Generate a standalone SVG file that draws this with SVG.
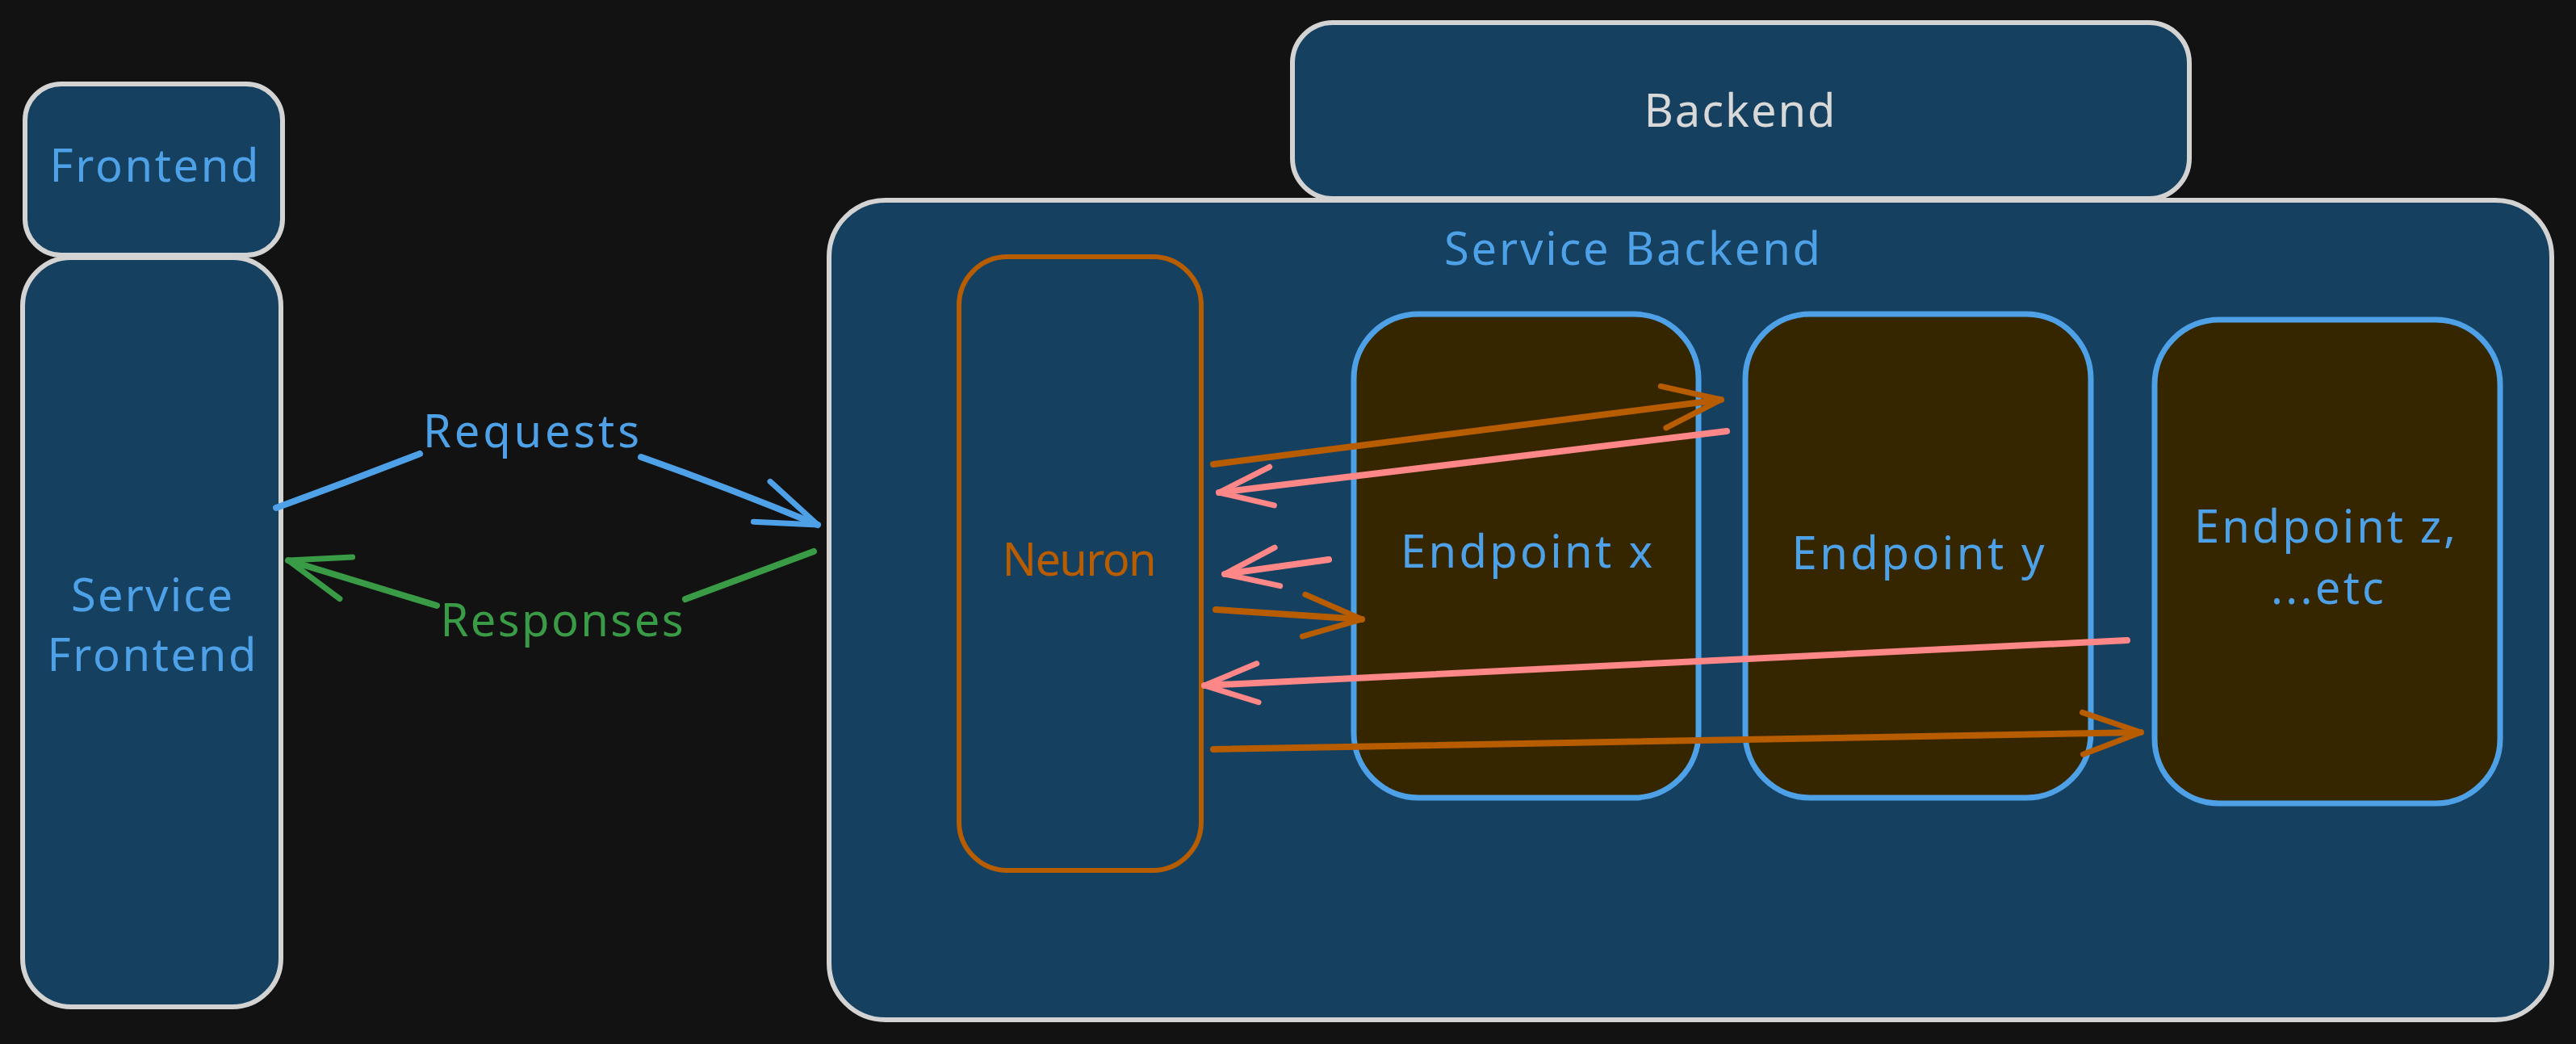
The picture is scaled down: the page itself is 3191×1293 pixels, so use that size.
<svg xmlns="http://www.w3.org/2000/svg" width="3191" height="1293" viewBox="0 0 3191 1293">
<style>
.bg{fill:#121212}
.box{fill:#154060;stroke:#d3d3d3;stroke-width:6}
.ep{fill:#352600;stroke:#4ea1e6;stroke-width:7}
.neu{fill:none;stroke:#b85c00;stroke-width:6}
text{font-family:"Noto Sans","Liberation Sans",sans-serif;font-size:56px;text-anchor:middle}
.tb{fill:#4ea1e6}
.tw{fill:#d8d8d8}
.to{fill:#b85c00}
.tg{fill:#3a9b46}
.ln{fill:none;stroke-width:8;stroke-linecap:round;stroke-linejoin:round}
.blue{stroke:#4ea1e6}
.green{stroke:#3a9b46}
.orange{stroke:#b85c00}
.pink{stroke:#ff8787}
</style>
<defs>
<marker id="ah-blue" markerUnits="userSpaceOnUse" viewBox="-85 -40 95 80" markerWidth="95" markerHeight="80" refX="0" refY="0" orient="auto"><path d="M-75 -27 L0 0 L-75 27" fill="none" stroke="#4ea1e6" stroke-width="7" stroke-linecap="round" stroke-linejoin="round"/></marker>
<marker id="ah-green" markerUnits="userSpaceOnUse" viewBox="-85 -40 95 80" markerWidth="95" markerHeight="80" refX="0" refY="0" orient="auto"><path d="M-75 -27 L0 0 L-75 27" fill="none" stroke="#3a9b46" stroke-width="7" stroke-linecap="round" stroke-linejoin="round"/></marker>
<marker id="ah-orange" markerUnits="userSpaceOnUse" viewBox="-85 -40 95 80" markerWidth="95" markerHeight="80" refX="0" refY="0" orient="auto"><path d="M-72 -26 L0 0 L-72 26" fill="none" stroke="#b85c00" stroke-width="7" stroke-linecap="round" stroke-linejoin="round"/></marker>
<marker id="ah-pink" markerUnits="userSpaceOnUse" viewBox="-85 -40 95 80" markerWidth="95" markerHeight="80" refX="0" refY="0" orient="auto"><path d="M-66 -24 L0 0 L-66 24" fill="none" stroke="#ff8787" stroke-width="7" stroke-linecap="round" stroke-linejoin="round"/></marker>
</defs>
<rect class="bg" x="0" y="0" width="3191" height="1293"/>
<g id="frontend">
<rect class="box" x="31" y="104" width="319" height="212" rx="45"/>
<text class="tb" x="191" y="225" textLength="259">Frontend</text>
</g>
<g id="service-frontend">
<rect class="box" x="28" y="319" width="320" height="928" rx="60"/>
<text class="tb" x="188" y="757" textLength="200">Service</text>
<text class="tb" x="188" y="831" textLength="259">Frontend</text>
</g>
<g id="backend">
<rect class="box" x="1601" y="28" width="1111" height="218" rx="50"/>
<text class="tw" x="2155" y="157" textLength="237">Backend</text>
</g>
<g id="service-backend">
<rect class="box" x="1027" y="248" width="2134" height="1015" rx="70"/>
<text class="tb" x="2022" y="328" textLength="466">Service Backend</text>
</g>
<g id="neuron">
<rect class="neu" x="1188" y="318" width="300" height="760" rx="60"/>
<text class="to" x="1337" y="713" textLength="191">Neuron</text>
</g>
<g id="endpoint-x">
<rect class="ep" x="1677" y="389" width="427" height="599" rx="80"/>
<text class="tb" x="1891" y="703" textLength="312">Endpoint x</text>
</g>
<g id="endpoint-y">
<rect class="ep" x="2162" y="389" width="428" height="599" rx="80"/>
<text class="tb" x="2376" y="705" textLength="313">Endpoint y</text>
</g>
<g id="endpoint-z">
<rect class="ep" x="2669" y="396" width="428" height="599" rx="80"/>
<text class="tb" x="2880" y="672" textLength="324">Endpoint z,</text>
<text class="tb" x="2883" y="748" textLength="140">...etc</text>
</g>
<g id="connectors">
<path class="ln blue" d="M342 629 Q430 597 520 562"/>
<path class="ln blue" d="M794 566 Q902 604 1013 650" marker-end="url(#ah-blue)"/>
<text class="tb" x="658" y="554" textLength="268">Requests</text>
<path class="ln green" d="M1008 683 L849 742"/>
<path class="ln green" d="M541 750 L357 694" marker-end="url(#ah-green)"/>
<text class="tg" x="696" y="788" textLength="301">Responses</text>
<path class="ln orange" d="M1503 575 L2132 495" marker-end="url(#ah-orange)"/>
<path class="ln pink" d="M2139 534 L1510 610" marker-end="url(#ah-pink)"/>
<path class="ln pink" d="M1646 693 L1517 711" marker-end="url(#ah-pink)"/>
<path class="ln orange" d="M1506 755 L1687 767" marker-end="url(#ah-orange)"/>
<path class="ln pink" d="M2635 793 L1492 849" marker-end="url(#ah-pink)"/>
<path class="ln orange" d="M1503 928 L2652 907" marker-end="url(#ah-orange)"/>
</g>
</svg>
